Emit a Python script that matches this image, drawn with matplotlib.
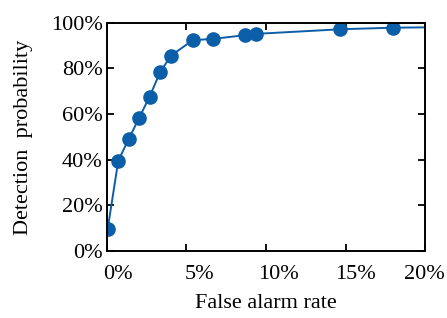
import matplotlib
matplotlib.use("Agg")
import matplotlib.pyplot as plt
import matplotlib.transforms as mtransforms
from matplotlib.ticker import FuncFormatter

false_alarm = [0.05, 0.72, 1.37, 2.02, 2.69, 3.35, 4.04, 5.40, 6.68, 8.67, 9.40, 14.67, 17.98, 21.0]
detection = [9.5, 39.6, 49.0, 58.2, 67.7, 78.4, 85.7, 92.4, 93.0, 94.6, 95.2, 97.2, 97.9, 98.1]
x_ticks = [0, 5, 10, 15, 20]
y_ticks = [0, 20, 40, 60, 80, 100]

plt.rcParams['font.family'] = ['Liberation Serif', 'DejaVu Serif']

fig = plt.figure(figsize=(4.47, 3.18), dpi=100)
ax = fig.add_axes([0.239, 0.211, 0.712, 0.717])
color = '#0b5ea8'
ax.plot(false_alarm, detection, '-o', color=color, lw=1.4, ms=9.5,
        markerfacecolor=color, markeredgecolor=color, clip_on=True)
ax.set_xlim(0, 20)
ax.set_ylim(0, 100)
ax.set_xticks(x_ticks)
ax.set_yticks(y_ticks)
ax.xaxis.set_major_formatter(FuncFormatter(lambda v, p: f"{v:.0f}%"))
ax.yaxis.set_major_formatter(FuncFormatter(lambda v, p: f"{v:.0f}%"))
ax.tick_params(direction='in', length=5, width=1.3, top=True, right=True,
               labelsize=16, colors='black')
ax.tick_params(axis='x', pad=10)
ax.tick_params(axis='y', pad=3)
for s in ax.spines.values():
    s.set_linewidth(1.4)
label_shift_px = [11, 13, 13, 10, -1]
for lab, dx in zip(ax.get_xticklabels(), label_shift_px):
    off = mtransforms.ScaledTranslation(dx / 100, 0, fig.dpi_scale_trans)
    lab.set_transform(lab.get_transform() + off)
ax.set_xlabel('False alarm rate', fontsize=16, labelpad=7)
ax.set_ylabel('Detection  probability', fontsize=16, labelpad=13)
fig.savefig('out.png', dpi=100)
